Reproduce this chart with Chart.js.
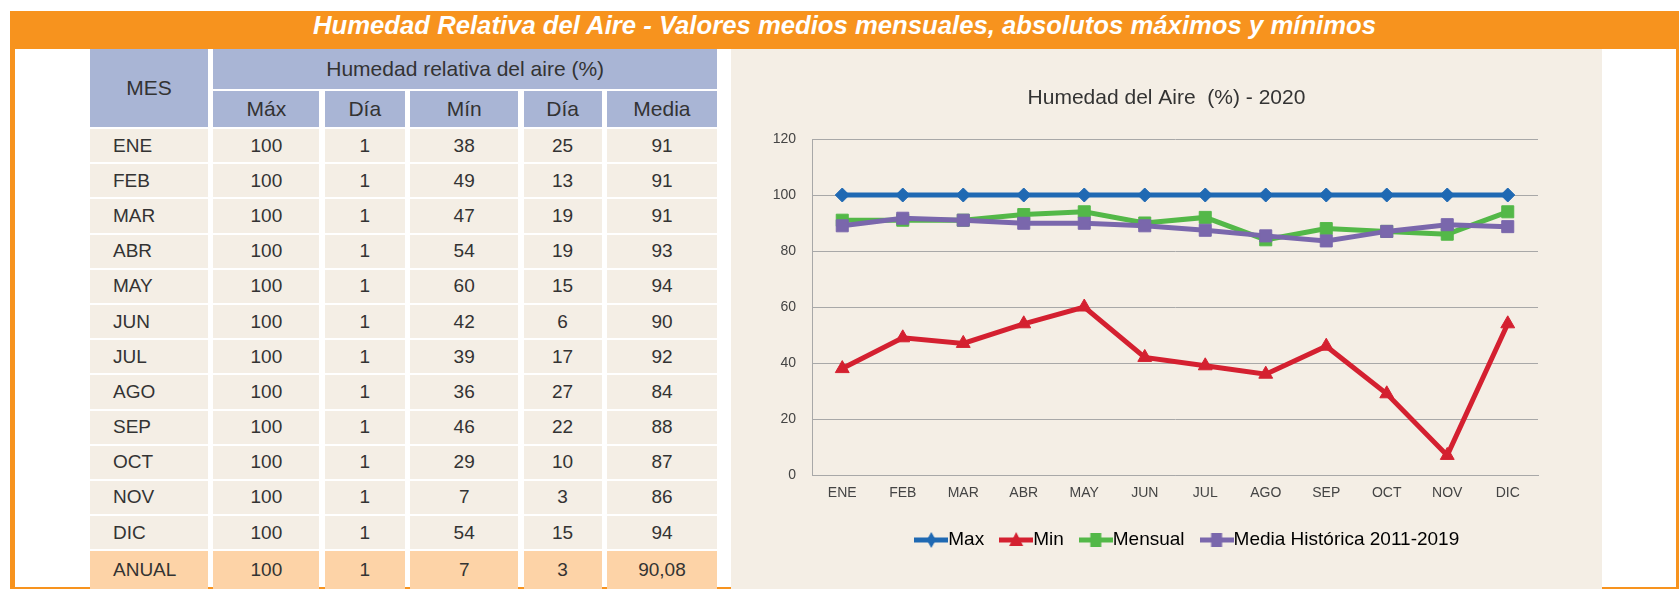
<!DOCTYPE html>
<html lang="es">
<head>
<meta charset="utf-8">
<title>Humedad Relativa del Aire</title>
<script src="https://cdn.jsdelivr.net/npm/chart.js@4.4.1/dist/chart.umd.min.js"></script>
<style>
  html, body { margin: 0; padding: 0; background: #fff; }
  body {
    width: 1679px; height: 589px; position: relative; overflow: hidden;
    font-family: "Liberation Sans", Arial, sans-serif; color: #333;
  }
  .frame {
    position: absolute; left: 10px; top: 11px; width: 1669px; height: 578px;
    box-sizing: border-box;
    border-left: 5px solid #f7931e; border-right: 3px solid #f7931e; border-bottom: 2px solid #f7931e;
  }
  .banner {
    position: absolute; left: 10px; top: 11px; width: 1669px; height: 38px;
    background: #f7931e; color: #fff; text-align: center; line-height: 40px;
    font: italic bold 25.7px "Liberation Sans", Arial, sans-serif;
  }
  #table {
    position: absolute; left: 90px; top: 49px;
    display: grid;
    grid-template-columns: 118px 106px 80px 108px 78px 110px;
    grid-template-rows: 40px 36px repeat(12, 33.2px) 37.6px;
    column-gap: 5.4px; row-gap: 2px;
  }
  #table div { display: flex; align-items: center; justify-content: center; }
  #table .h { background: #a9b5d5; font-size: 21px; }
  #table .c { background: #f4eee5; font-size: 19px; }
  #table .a { background: #fdd3a7; font-size: 19px; }
  #table .m { justify-content: flex-start; padding-left: 23px; }
  .panel {
    position: absolute; left: 731px; top: 49px; width: 871px; height: 540px;
    background: #f4eee5;
  }
</style>
</head>
<body>
<div class="frame"></div>
<div class="banner">Humedad Relativa del Aire - Valores medios mensuales, absolutos máximos y mínimos</div>
<div id="table"></div>
<div class="panel"><canvas id="chart" width="871" height="540"></canvas></div>

<script>
// table and chart data
const months = ['ENE', 'FEB', 'MAR', 'ABR', 'MAY', 'JUN', 'JUL', 'AGO', 'SEP', 'OCT', 'NOV', 'DIC'];
const maxValues = [100, 100, 100, 100, 100, 100, 100, 100, 100, 100, 100, 100];
const maxDays = [1, 1, 1, 1, 1, 1, 1, 1, 1, 1, 1, 1];
const minValues = [38, 49, 47, 54, 60, 42, 39, 36, 46, 29, 7, 54];
const minDays = [25, 13, 19, 19, 15, 6, 17, 27, 22, 10, 3, 15];
const monthlyMean = [91, 91, 91, 93, 94, 90, 92, 84, 88, 87, 86, 94];
const historicMean = [89.0, 91.7, 91.0, 89.9, 89.9, 89.0, 87.4, 85.4, 83.6, 87.0, 89.4, 88.7];
const annualRow = ['ANUAL', '100', '1', '7', '3', '90,08'];
const subHeaders = ['Máx', 'Día', 'Mín', 'Día', 'Media'];
const yMin = 0, yMax = 120, yStep = 20;

const COLORS = {
    max: '#1f69b3',
    min: '#d42030',
    mean: '#53b848',
    hist: '#7a67ac'
};

/**
 * Build the data table on the left
 */
function buildTable() {
    const table = document.getElementById('table');
    const cell = (text, cls, style) => {
        const d = document.createElement('div');
        d.className = cls;
        d.textContent = text;
        if (style) d.style.cssText = style;
        table.appendChild(d);
    };

    cell('MES', 'h', 'grid-row: span 2;');
    cell('Humedad relativa del aire (%)', 'h', 'grid-column: span 5;');
    subHeaders.forEach(t => cell(t, 'h'));

    months.forEach((m, i) => {
        cell(m, 'c m');
        cell(maxValues[i], 'c');
        cell(maxDays[i], 'c');
        cell(minValues[i], 'c');
        cell(minDays[i], 'c');
        cell(monthlyMean[i], 'c');
    });

    annualRow.forEach((t, i) => cell(t, i === 0 ? 'a m' : 'a'));
}

/**
 * Small line + marker picture used in the legend
 */
function legendIcon(color, shape) {
    const c = document.createElement('canvas');
    c.width = 34;
    c.height = 20;
    const ctx = c.getContext('2d');
    ctx.strokeStyle = color;
    ctx.fillStyle = color;
    ctx.lineWidth = 5;
    ctx.beginPath();
    ctx.moveTo(0, 10);
    ctx.lineTo(34, 10);
    ctx.stroke();
    ctx.beginPath();
    if (shape === 'diamond') {
        ctx.moveTo(17, 2); ctx.lineTo(21.5, 10); ctx.lineTo(17, 18); ctx.lineTo(12.5, 10);
    } else if (shape === 'triangle') {
        ctx.moveTo(17, 2); ctx.lineTo(24, 16); ctx.lineTo(10, 16);
    } else {
        ctx.rect(11.5, 3, 11, 14);
    }
    ctx.closePath();
    ctx.fill();
    return c;
}

// the legend sits a bit right of the title in the original
const legendShift = {
    id: 'legendShift',
    afterLayout(chart) {
        chart.legend.left += 25;
        chart.legend.right += 25;
    }
};

function buildChart() {
    Chart.defaults.font.family = '"Liberation Sans", Arial, sans-serif';
    Chart.defaults.color = '#444';

    const icons = [
        legendIcon(COLORS.max, 'diamond'),
        legendIcon(COLORS.min, 'triangle'),
        legendIcon(COLORS.mean, 'square'),
        legendIcon(COLORS.hist, 'square')
    ];

    const series = (label, data, color, style, radius, order) => ({
        label: label,
        data: data,
        borderColor: color,
        backgroundColor: color,
        borderWidth: 5,
        pointStyle: style,
        pointRadius: radius,
        pointHoverRadius: radius,
        pointBackgroundColor: color,
        pointBorderColor: color,
        pointBorderWidth: 1,
        tension: 0,
        order: order
    });

    const gridColor = '#a8a8a8';

    new Chart(document.getElementById('chart'), {
        type: 'line',
        data: {
            labels: months,
            datasets: [
                series('Max', maxValues, COLORS.max, 'rectRot', 7, 4),
                series('Min', minValues, COLORS.min, 'triangle', 8, 3),
                series('Mensual', monthlyMean, COLORS.mean, 'rect', 8.5, 2),
                series('Media Histórica 2011-2019', historicMean, COLORS.hist, 'rect', 8.5, 1)
            ]
        },
        options: {
            responsive: false,
            animation: false,
            layout: { padding: { left: 0, right: 0, top: 0, bottom: 29.5 } },
            plugins: {
                title: {
                    display: true,
                    text: 'Humedad del Aire  (%) - 2020',
                    color: '#333',
                    font: { size: 21, weight: 'normal' },
                    padding: { top: 36.4, bottom: 28.4 }
                },
                legend: {
                    position: 'bottom',
                    labels: {
                        color: '#333',
                        font: { size: 19 },
                        usePointStyle: true,
                        pointStyleWidth: 15,
                        padding: 24.5,
                        generateLabels: chart => chart.data.datasets.map((ds, i) => ({
                            text: ds.label,
                            pointStyle: icons[i],
                            fillStyle: ds.borderColor,
                            strokeStyle: ds.borderColor,
                            lineWidth: 0,
                            hidden: false,
                            datasetIndex: i
                        }))
                    }
                },
                tooltip: { enabled: false }
            },
            scales: {
                x: {
                    offset: true,
                    grid: { display: false, drawTicks: false },
                    border: { display: true, color: gridColor, width: 1 },
                    ticks: { font: { size: 14 }, color: '#444', padding: 10, autoSkip: false, maxRotation: 0 },
                    afterFit: s => { s.height = 31; }
                },
                y: {
                    min: yMin,
                    max: yMax,
                    grid: { color: gridColor, lineWidth: 1, drawTicks: false },
                    border: { display: true, color: gridColor, width: 1 },
                    ticks: { stepSize: yStep, font: { size: 14 }, color: '#444', padding: 16 },
                    afterFit: s => { s.width = 81; }
                },
                // empty box that keeps the plot off the right edge
                spacer: {
                    position: 'right',
                    grid: { display: false, drawTicks: false },
                    border: { display: false },
                    ticks: { display: false },
                    afterFit: s => { s.width = 64; }
                }
            }
        },
        plugins: [legendShift]
    });
}

buildTable();
buildChart();
</script>
</body>
</html>
